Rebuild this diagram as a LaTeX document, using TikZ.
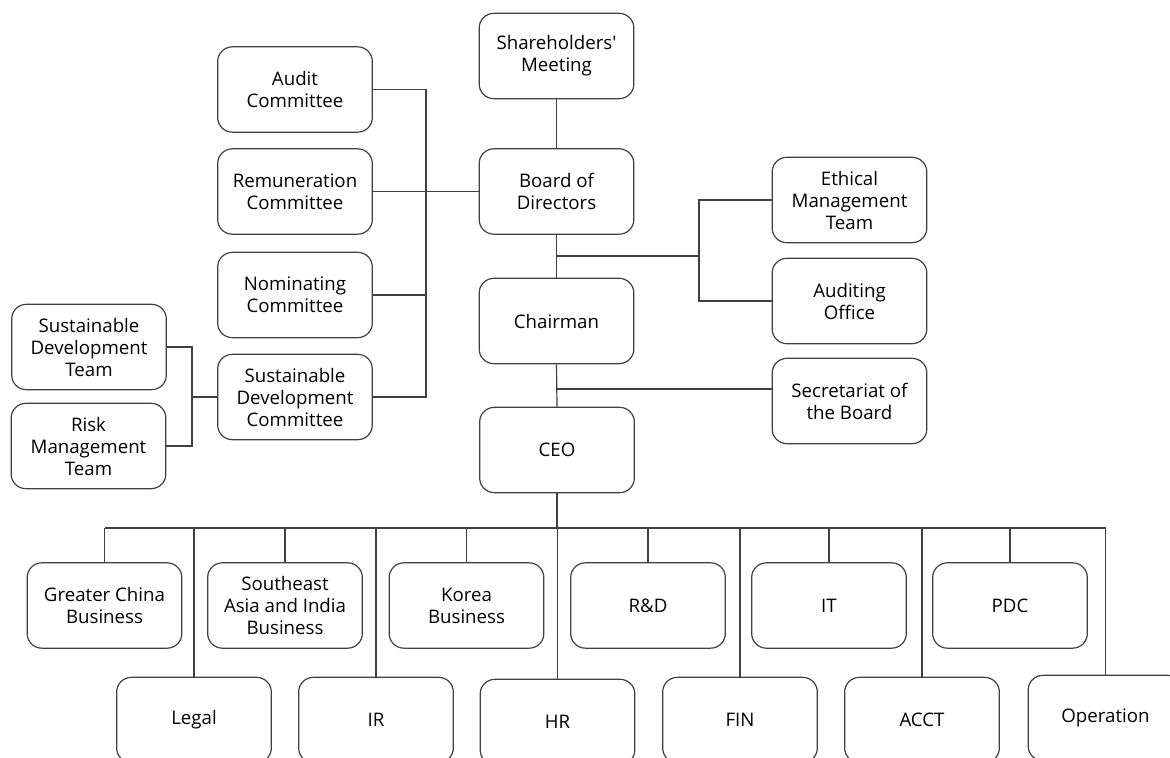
\documentclass[tikz,border=0pt]{standalone}
\usepackage{fontspec}
\setmainfont{Open Sans}
\definecolor{linegray}{HTML}{404040}
\tikzset{
  box/.style={draw=linegray, line width=0.9pt, rounded corners=11pt, fill=white,
    minimum width=116pt, minimum height=64pt, inner sep=0pt, align=center,
    text=black, font=\fontsize{14}{16.5}\selectfont},
  conn/.style={draw=linegray, line width=0.9pt},
}
\begin{document}
\begin{tikzpicture}[x=0.75pt,y=-0.75pt]
\useasboundingbox (0,0) rectangle (1170,757);
\clip (0,0) rectangle (1170,757);
% central column
\node[box] (sh) at (556.5,56) {Shareholders\textquotesingle\\Meeting};
\node[box] (bod) at (556.5,191.5) {Board of\\Directors};
\node[box] (chair) at (556.5,321) {Chairman};
\node[box] (ceo) at (557,450) {CEO};
% committees
\node[box] (audit) at (295,89.5) {Audit\\Committee};
\node[box] (remun) at (295,191.5) {Remuneration\\Committee};
\node[box] (nomin) at (295,295) {Nominating\\Committee};
\node[box] (sdc) at (295,397) {Sustainable\\Development\\Committee};
\node[box] (sdt) at (89,347) {Sustainable\\Development\\Team};
\node[box] (risk) at (88.5,446) {Risk\\Management\\Team};
% right side
\node[box] (ethic) at (849.5,200) {Ethical\\Management\\Team};
\node[box] (audoff) at (849.5,301) {Auditing\\Office};
\node[box] (secr) at (849.5,401) {Secretariat of\\the Board};
% top row
\node[box] (gc) at (104.5,605.5) {Greater China\\Business};
\node[box] (sea) at (285,605.5) {Southeast\\Asia and India\\Business};
\node[box] (kor) at (466.5,605.5) {Korea\\Business};
\node[box] (rd) at (648,605.5) {R\&D};
\node[box] (it) at (829,605.5) {IT};
\node[box] (pdc) at (1010,605.5) {PDC};
% bottom row
\node[box] (legal) at (194,720) {Legal};
\node[box] (ir) at (376,720) {IR};
\node[box] (hr) at (557.5,722) {HR};
\node[box] (fin) at (740,720) {FIN};
\node[box] (acct) at (922,720) {ACCT};
\node[box] (op) at (1105.5,718) {Operation};
% helper coordinates
\coordinate (cx) at (426,0);
\coordinate (lx) at (192,0);
\coordinate (rx) at (699,0);
\coordinate (j1) at (556.5,256);
\coordinate (j2) at (556.5,389);
\coordinate (bus) at (557,528);
% central connectors
\draw[conn] (sh.south) -- (bod.north);
\draw[conn] (bod.south) -- (chair.north);
\draw[conn] (chair.south) -- (ceo.north);
% committees
\draw[conn] (audit.east) -- (audit.east -| cx) |- (sdc.east);
\draw[conn] (remun.east) -- (remun.east -| bod.west);
\draw[conn] (nomin.east) -- (nomin.east -| cx);
% sustainable teams
\draw[conn] (sdt.east) -- (sdt.east -| lx) |- (risk.east);
\draw[conn] (lx |- sdc.west) -- (sdc.west);
% right side
\draw[conn] (ethic.west) -- (ethic.west -| rx) |- (audoff.west);
\draw[conn] (j1) -- (j1 -| rx);
\draw[conn] (j2) -- (j2 -| secr.west);
% bus
\draw[conn, line width=1.5pt] (ceo.south) -- (bus);
\draw[conn] (gc.north |- bus) -- (op.north |- bus);
\foreach \n in {gc,sea,kor,rd,it,pdc,legal,ir,hr,fin,acct,op}
  \draw[conn] (\n.north |- bus) -- (\n.north);
\end{tikzpicture}
\end{document}
